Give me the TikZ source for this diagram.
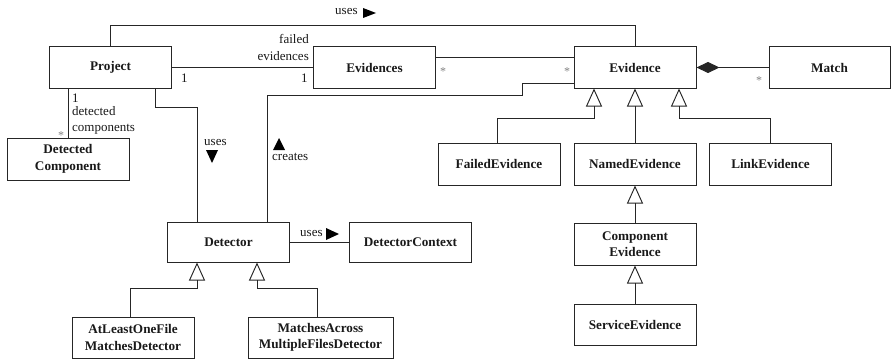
\documentclass[tikz,border=0pt]{standalone}
\usepackage{fontspec}
\setmainfont{Liberation Serif}
\usetikzlibrary{arrows.meta}
\begin{document}
\begin{tikzpicture}[x=1pt,y=-1pt,
  cls/.style={draw=black!85, line width=1pt, minimum width=122pt, minimum height=41pt, inner sep=1pt, align=center, text=black!90, font=\fontsize{13.2}{16.5}\selectfont\bfseries},
  conn/.style={draw=black!85, line width=0.95pt},
  inh/.style={conn, -{Triangle[open,width=16pt,length=18pt]}},
  lbl/.style={font=\fontsize{13}{15}\selectfont, inner sep=0pt, text=black!90},
  mult/.style={font=\fontsize{12}{14}\selectfont, text=gray, inner sep=0pt},
  tri/.style={fill=black}]
\useasboundingbox (0,0) rectangle (891,361);
% classes
\node[cls] (project) at (110.5,67.5) {Project};
\node[cls] (evidences) at (374.5,67.5) {Evidences};
\node[cls] (evidence) at (635,67.5) {Evidence};
\node[cls, minimum width=121pt] (match) at (829.5,67.5) {Match};
\node[cls, minimum height=42pt] (detcomp) at (68,159) {Detected\\Component};
\node[cls, minimum height=40pt] (detector) at (228.5,242) {Detector};
\node[cls, minimum height=40pt] (detctx) at (410.5,242) {DetectorContext};
\node[cls] (alo) at (133,337.5) {AtLeastOneFile\\MatchesDetector};
\node[cls, minimum width=145pt] (mam) at (320.5,337.5) {MatchesAcross\\MultipleFilesDetector};
\node[cls, minimum height=42pt] (failed) at (499,164) {FailedEvidence};
\node[cls, minimum height=42pt] (named) at (635,164) {NamedEvidence};
\node[cls, minimum height=42pt] (link) at (770.5,164) {LinkEvidence};
\node[cls, minimum height=42pt] (compev) at (635,244) {Component\\Evidence};
\node[cls] (service) at (635,324.5) {ServiceEvidence};
% associations
\draw[conn] (project.north) -- ++(0,-21) -| (evidence.north);
\draw[conn] (project.east) -- (evidences.west);
\draw[conn] ([yshift=10pt]evidences.east) -- ([yshift=10pt]evidence.west);
\draw[conn] ([yshift=-15.5pt]evidence.west) -| (522,95) -| ([xshift=38.5pt]detector.north);
\draw[conn] ([xshift=44.5pt]project.south) -- ++(0,19) -| ([xshift=-31.5pt]detector.north);
\draw[conn] ([xshift=-42.5pt]project.south) -- (detcomp.north);
\draw[conn] (detector.east) -- (detctx.west);
\draw[conn, {Diamond[length=23pt,width=11pt]}-] (evidence.east) -- (match.west);
% inheritance
\draw[inh] ([xshift=-3pt]alo.north) -- ++(0,-28) -| ([xshift=-31.5pt]detector.south);
\draw[inh] ([xshift=-3.5pt]mam.north) -- ++(0,-28) -| ([xshift=28.5pt]detector.south);
\draw[inh] ([xshift=-2pt]failed.north) -- ++(0,-24) -| ([xshift=-41pt]evidence.south);
\draw[inh] (named.north) -- (evidence.south);
\draw[inh] ([xshift=-0.5pt]link.north) -- ++(0,-24) -| ([xshift=44pt]evidence.south);
\draw[inh] (compev.north) -- (named.south);
\draw[inh] (service.north) -- (compev.south);
% labels
\node[lbl, anchor=base west] (l1) at (335,15) {uses};
\fill[tri] (363,8) -- (376,13) -- (363,18) -- cycle;
\node[lbl, anchor=base east] (l2) at (309,43.3) {failed};
\node[lbl, anchor=base east] (l3) at (309,61) {evidences};
\node[lbl, anchor=base west] (l4) at (181,82) {1};
\node[lbl, anchor=base west] (l5) at (301,82) {1};
\node[mult] (m1) at (443,72) {*};
\node[mult] (m2) at (567,72) {*};
\node[mult] (m3) at (759,81) {*};
\node[mult] (m4) at (61,136) {*};
\node[lbl, anchor=base west] (l6) at (72,102) {1};
\node[lbl, anchor=base west] (l7) at (72,115) {detected};
\node[lbl, anchor=base west] (l8) at (72,131.5) {components};
\node[lbl, anchor=base west] (l9) at (204,145) {uses};
\fill[tri] (206,150) -- (218,150) -- (212,163) -- cycle;
\fill[tri] (273,150) -- (285,150) -- (279,138) -- cycle;
\node[lbl, anchor=base west] (l10) at (272,160) {creates};
\node[lbl, anchor=base west] (l11) at (300,236.5) {uses};
\fill[tri] (326,228) -- (339,234) -- (326,240) -- cycle;
\end{tikzpicture}
\end{document}
